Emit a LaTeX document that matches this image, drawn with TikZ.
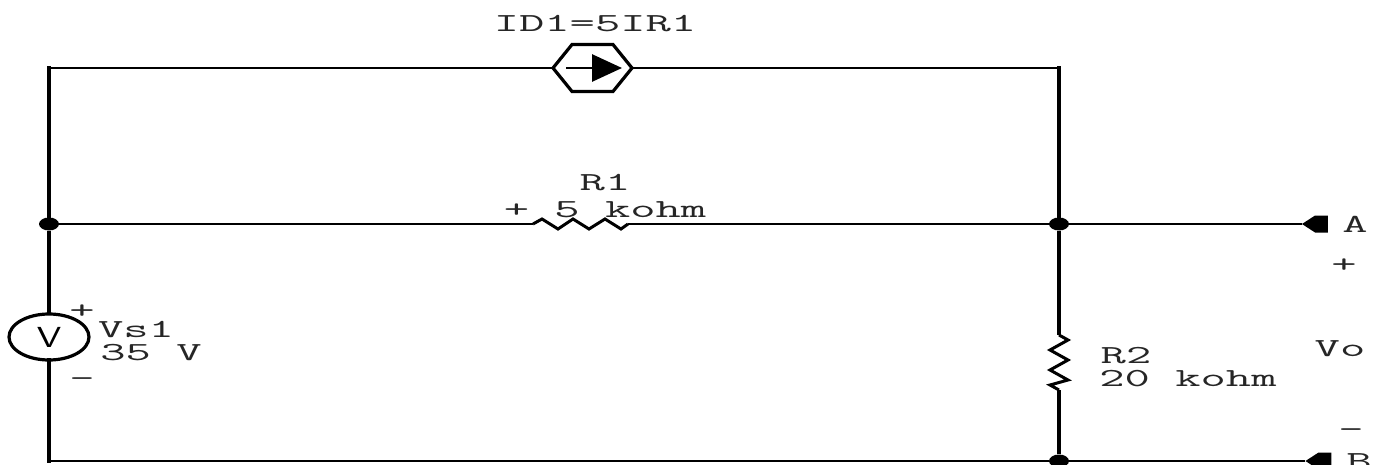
\documentclass[tikz,border=0pt]{standalone}
\usetikzlibrary{arrows.meta,shapes.geometric,shapes.symbols}
\tikzset{
        wireh/.style={line width=2.8pt},
        wirev/.style={line width=3.8pt},
        zig/.style={line width=3pt, line join=miter},
        lbl/.style={font=\ttfamily\fontsize{26}{26}\selectfont, text=black!85, anchor=base, inner sep=0pt, transform shape, xscale=1.89},
        dot/.style={ellipse, fill=black, inner sep=0pt, minimum width=20pt, minimum height=13pt},
        terminal/.style={signal, signal to=west, signal pointer angle=66, fill=black, inner sep=0pt, outer sep=0pt, minimum width=26pt, minimum height=17pt}
}

\begin{document}
\begin{tikzpicture}[x=1pt, y=-1pt]
        \useasboundingbox (0, 0) rectangle (1383, 465);
        \clip (0, 0) rectangle (1383, 465);
        \coordinate (TL) at (49, 68);
        \coordinate (TR) at (1059, 68);
        \coordinate (BL) at (49, 461);
        \coordinate (R1a) at (533, 224);
        \coordinate (R1b) at (628, 224);
        \coordinate (R2a) at (1059, 335);
        \coordinate (R2b) at (1059, 390);
        \coordinate (ID1a) at (566, 68);
        \coordinate (ID1b) at (622, 68);
        \node[dot] (J1) at (49, 224) {};
        \node[dot] (J2) at (1059, 224) {};
        \node[dot] (J3) at (1059, 461) {};
        \node[signal, signal to=west and east, signal pointer angle=102, draw, line width=3.2pt, inner sep=0pt, outer sep=0pt, minimum width=79pt, minimum height=47pt] (ID1) at (592.5, 68) {};
        \node[ellipse, draw, line width=3.2pt, inner sep=0pt, outer sep=0pt, minimum width=80pt, minimum height=46pt, font=\sffamily\fontsize{29}{29}\selectfont] (Vs1) at (49, 337) {\scalebox{1.35}[1]{V}};
        \node[terminal] (A) at (1321.5, 224) {};
        \node[terminal] (B) at (1325, 461) {};
        \draw[wireh] (TL) -- (ID1.west);
        \draw[wireh] (ID1.east) -- (TR);
        \draw[wireh] (J1) -- (R1a);
        \draw[wireh] (R1b) -- (J2);
        \draw[wireh] (J2) -- (A.west);
        \draw[wireh] (BL) -- (J3);
        \draw[wireh] (J3) -- (B.west);
        \draw[wirev, line cap=rect] (TL) -- (J1);
        \draw[wirev] (J1) -- (Vs1.north);
        \draw[wirev, line cap=rect] (Vs1.south) -- (BL);
        \draw[wirev, line cap=rect] (TR) -- (J2);
        \draw[wirev] (J2) -- (R2a);
        \draw[wirev] (R2b) -- (J3);
        \draw[zig] (R1a) -- ++(9, -5) -- ++(16, 10) -- ++(15, -10) -- ++(16, 10) -- ++(16, -10) -- ++(16, 10) -- (R1b);
        \draw[zig] (R2a) -- ++(9, 5) -- ++(-18, 10) -- ++(18, 10) -- ++(-18, 10) -- ++(18, 10) -- ++(-18, 5) -- (R2b);
        \draw[wireh, -{Triangle[length=30pt, width=27pt]}] (ID1a) -- (ID1b);
        \node[lbl] (ID1lbl) at (595, 32) {ID1=5IR1};
        \node[lbl] (R1name) at (605, 190) {R1};
        \node[lbl] (R1val) at (605, 218) {+ 5 kohm};
        \node[lbl] (Vs1name) at (136, 337) {Vs1};
        \node[lbl] (Vs1val) at (151, 360) {35 V};
        \node[lbl] (Vs1p) at (82, 318) {+};
        \node[lbl] (Vs1m) at (82, 386) {-};
        \node[lbl] (R2name) at (1126, 363) {R2};
        \node[lbl] (R2val) at (1188, 386) {20 kohm};
        \node[lbl] (Alabel) at (1355, 232) {A};
        \node[lbl] (Vop) at (1344, 272) {+};
        \node[lbl] (Volabel) at (1340, 356) {Vo};
        \node[lbl] (Vom) at (1351, 437) {-};
        \node[lbl] (Blabel) at (1359, 469) {B};
\end{tikzpicture}
\end{document}
